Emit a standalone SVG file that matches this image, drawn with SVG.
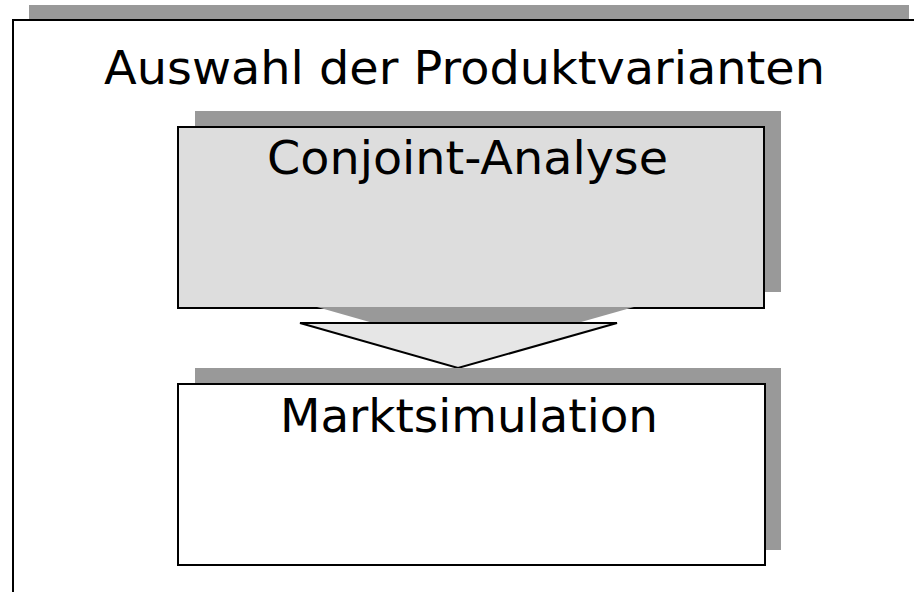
<svg xmlns="http://www.w3.org/2000/svg" width="914" height="592" viewBox="0 0 914 592">
  <style>
    .shadow { fill: #999999; stroke: none; }
    .box { stroke: #000000; stroke-width: 2; }
    .label { font-family: "DejaVu Sans", Verdana, sans-serif; fill: #000000; font-size: 46px; }
  </style>
  <rect width="914" height="592" fill="#ffffff"/>

  <!-- outer frame -->
  <g id="frame">
    <rect class="shadow" x="29" y="5" width="880" height="600"/>
    <rect class="box" x="13" y="20" width="920" height="600" fill="#ffffff"/>
    <text class="label" x="104" y="84" textLength="721" lengthAdjust="spacingAndGlyphs">Auswahl der Produktvarianten</text>
  </g>

  <g id="conjoint">
    <rect class="shadow" x="195" y="111" width="586" height="181"/>
    <rect class="box" x="178" y="127" width="586" height="181" fill="#dddddd"/>
    <text class="label" x="267" y="174" textLength="401" lengthAdjust="spacingAndGlyphs">Conjoint-Analyse</text>
  </g>

  <!-- connector: block arrow -->
  <g id="connectors">
    <polygon class="shadow" points="317,307 634,307 475,352"/>
    <polygon class="box" points="300,323 617,323 458,368" fill="#e6e6e6" stroke-linejoin="miter"/>
  </g>

  <g id="marktsimulation">
    <rect class="shadow" x="195" y="368" width="586" height="182"/>
    <rect class="box" x="178" y="384" width="587" height="181" fill="#ffffff"/>
    <text class="label" x="280" y="432" textLength="378" lengthAdjust="spacingAndGlyphs">Marktsimulation</text>
  </g>
</svg>
